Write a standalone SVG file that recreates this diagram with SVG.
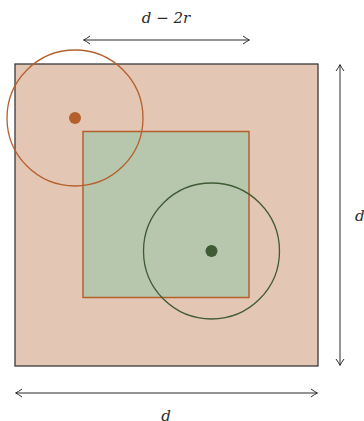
<svg xmlns="http://www.w3.org/2000/svg" width="364" height="421" viewBox="0 0 364 421">
<style>
.dim{stroke:#2b2b2b;stroke-width:1;fill:none}
.lbl{font-family:"DejaVu Serif","Liberation Serif",serif;font-style:italic;font-size:15px;fill:#2b2b2b}
</style>
<defs>
<marker id="ah" viewBox="-8 -5 10 10" markerWidth="10" markerHeight="10" refX="0" refY="0" orient="auto-start-reverse" markerUnits="userSpaceOnUse">
<path d="M-6,-4 Q-2,-1 0.5,0 Q-2,1 -6,4" fill="none" stroke="#2b2b2b" stroke-width="1"/>
</marker>
</defs>
<rect width="364" height="421" fill="#ffffff"/>
<g id="outer-square"><rect x="15" y="64" width="303" height="302" fill="#e4c6b4" stroke="#3a3a3a" stroke-width="1.3"/></g>
<g id="inner-square"><rect x="83" y="131.5" width="166" height="166" fill="#b6c7ad" stroke="#b5602c" stroke-width="1.5"/></g>
<g id="orange-circle"><circle cx="75" cy="118" r="68" fill="none" stroke="#b5602c" stroke-width="1.3"/><circle cx="75" cy="118" r="6" fill="#b5602c"/></g>
<g id="green-circle"><circle cx="211.5" cy="251" r="68" fill="none" stroke="#3f5a35" stroke-width="1.3"/><circle cx="211.5" cy="251" r="6" fill="#3f5a35"/></g>
<g id="connectors">
<line class="dim" x1="84" y1="40" x2="249" y2="40" marker-start="url(#ah)" marker-end="url(#ah)"/>
<line class="dim" x1="340" y1="65" x2="340" y2="365" marker-start="url(#ah)" marker-end="url(#ah)"/>
<line class="dim" x1="16" y1="393" x2="317" y2="393" marker-start="url(#ah)" marker-end="url(#ah)"/>
</g>
<g id="labels">
<text class="lbl" x="166" y="23" text-anchor="middle">d − 2r</text>
<text class="lbl" x="355" y="221">d</text>
<text class="lbl" x="166" y="421" text-anchor="middle">d</text>
</g>
</svg>
